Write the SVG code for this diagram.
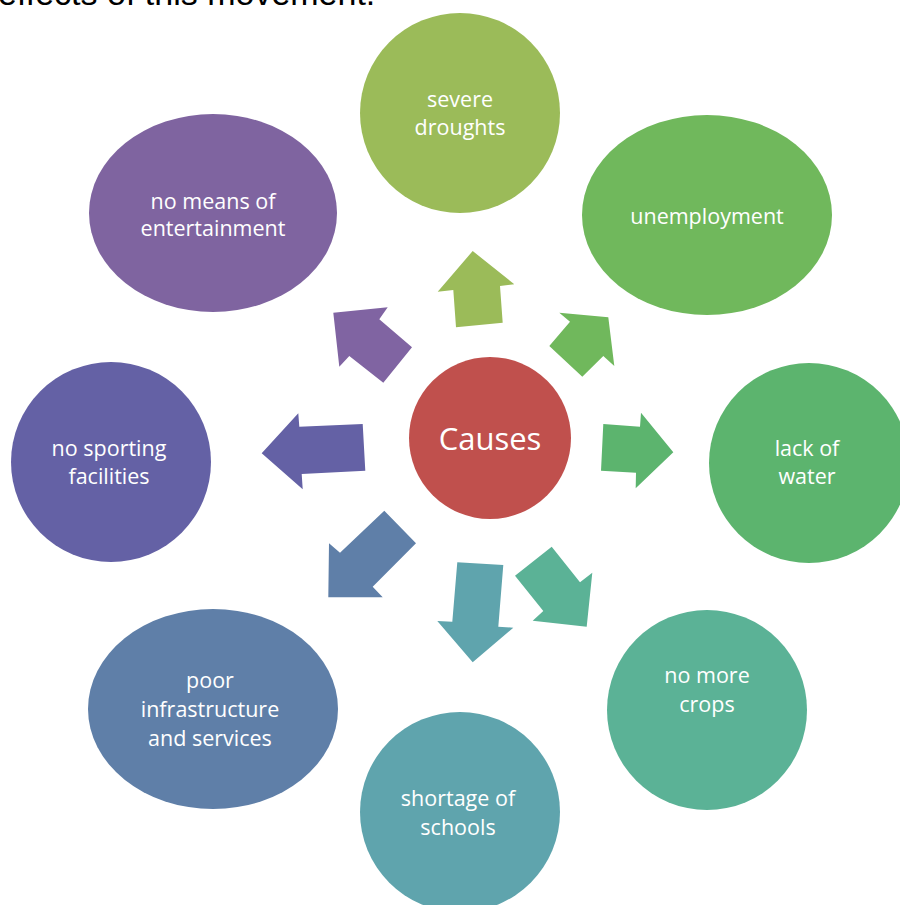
<svg xmlns="http://www.w3.org/2000/svg" width="900" height="905" viewBox="0 0 900 905">
<style>
.t{font-family:"Open Sans","Noto Sans","DejaVu Sans",sans-serif;font-size:21.5px;fill:#ffffff;text-anchor:middle}
.big{font-size:31px}
.title{font-family:"Liberation Sans",Arial,sans-serif;font-size:34px;fill:#000000}
</style>
<rect width="900" height="905" fill="#ffffff"/>
<text class="title" x="-2" y="5">effects of this movement.</text>
<g id="connectors">
<polygon fill="#9BBB59" points="456,327.3 453.3,290 437.7,291.7 472.7,251 514.3,284.3 500,286 502.7,322.7"/>
<polygon fill="#70B85C" points="549.3,346 570,321.7 559.3,312.7 608.3,317.3 614.3,366 603.3,356 582.3,376.7"/>
<polygon fill="#5CB46E" points="603.3,424 640,426.7 641,412.7 673.3,452.3 635.7,488.3 636,472.7 601,470.7"/>
<polygon fill="#5BB296" points="515,575.7 551.7,546.7 580,582.3 592.3,572.7 586.7,626.7 532.7,620.7 543.3,611"/>
<polygon fill="#5FA4AD" points="457.3,562.3 503.3,565 498.3,626.7 513.3,627.7 472.7,662.3 437.3,621 452.3,621.7"/>
<polygon fill="#5F7FA8" points="384.3,510.7 340,552.7 329,543.3 328.3,597.3 382.7,597.3 372.7,586.7 416,543.3"/>
<polygon fill="#6461A5" points="362.7,424 299.3,426.7 298.3,413.3 261.7,453.3 302.7,489.3 301.7,474 365.3,470.7"/>
<polygon fill="#8064A2" points="412,347.3 379.3,319.3 387.7,307.3 333.3,312.7 339.3,366.7 349.3,356 383.3,382.7"/>
</g>
<g id="causes">
<circle cx="490" cy="438" r="81" fill="#C0504D"/>
<text class="t big" x="490" y="450">Causes</text>
</g>
<g id="severe-droughts">
<ellipse cx="460" cy="113" rx="100" ry="100" fill="#9BBB59"/>
<text class="t" x="460" y="107">severe</text>
<text class="t" x="460" y="135">droughts</text>
</g>
<g id="unemployment">
<ellipse cx="707" cy="215" rx="125" ry="100" fill="#70B85C"/>
<text class="t" x="707" y="224">unemployment</text>
</g>
<g id="lack-of-water">
<ellipse cx="809" cy="463" rx="100" ry="100" fill="#5CB46E"/>
<text class="t" x="807" y="456">lack of</text>
<text class="t" x="807" y="484">water</text>
</g>
<g id="no-more-crops">
<ellipse cx="707" cy="710" rx="100" ry="100" fill="#5BB296"/>
<text class="t" x="707" y="683">no more</text>
<text class="t" x="707" y="712">crops</text>
</g>
<g id="shortage-of-schools">
<ellipse cx="460" cy="812" rx="100" ry="100" fill="#5FA4AD"/>
<text class="t" x="458" y="806">shortage of</text>
<text class="t" x="458" y="835">schools</text>
</g>
<g id="poor-infrastructure">
<ellipse cx="213" cy="709" rx="125" ry="100" fill="#5F7FA8"/>
<text class="t" x="210" y="688">poor</text>
<text class="t" x="210" y="717">infrastructure</text>
<text class="t" x="210" y="746">and services</text>
</g>
<g id="no-sporting-facilities">
<ellipse cx="111" cy="462" rx="100" ry="100" fill="#6461A5"/>
<text class="t" x="109" y="456">no sporting</text>
<text class="t" x="109" y="484">facilities</text>
</g>
<g id="no-means-of-entertainment">
<ellipse cx="213" cy="213" rx="124" ry="99" fill="#7F64A0"/>
<text class="t" x="213" y="209">no means of</text>
<text class="t" x="213" y="236">entertainment</text>
</g>
</svg>
